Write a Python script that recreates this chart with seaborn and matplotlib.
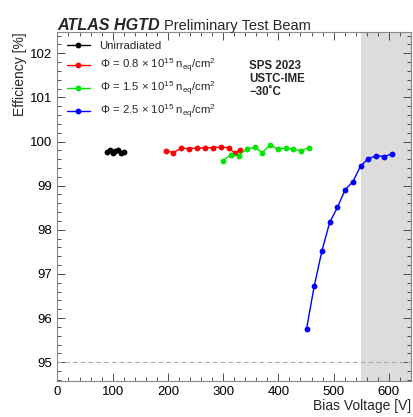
import numpy as np
import pandas as pd
import matplotlib
matplotlib.use("Agg")
import matplotlib.pyplot as plt
import seaborn as sns
from matplotlib.ticker import MultipleLocator

# --------------------------------------------
# Data
# --------------------------------------------
v_unirr = [90, 95, 100, 105, 110, 115, 120]
eff_unirr = [99.76, 99.80, 99.74, 99.79, 99.80, 99.75, 99.77]

v_08 = [196, 210, 224, 238, 252, 267, 281, 296, 310, 322, 330]
eff_08 = [99.79, 99.75, 99.85, 99.84, 99.85, 99.86, 99.86, 99.88, 99.85, 99.74, 99.81]

v_15 = [299, 314, 328, 343, 357, 371, 385, 399, 413, 427, 441, 455]
eff_15 = [99.56, 99.70, 99.68, 99.83, 99.87, 99.75, 99.92, 99.83, 99.85, 99.83, 99.79, 99.86]

v_25 = [451, 465, 479, 493, 507, 521, 535, 549, 563, 577, 592, 606]
eff_25 = [95.75, 96.73, 97.53, 98.17, 98.51, 98.91, 99.09, 99.45, 99.61, 99.68, 99.66, 99.72]

labels = [
    "Unirradiated",
    "\u03a6 = 0.8 \u00d7 10$^{15}$ n$_{\\rm eq}$/cm$^2$",
    "\u03a6 = 1.5 \u00d7 10$^{15}$ n$_{\\rm eq}$/cm$^2$",
    "\u03a6 = 2.5 \u00d7 10$^{15}$ n$_{\\rm eq}$/cm$^2$",
]
colors = ["black", "#ff0000", "#00e600", "#0000ff"]

series = [(v_unirr, eff_unirr), (v_08, eff_08), (v_15, eff_15), (v_25, eff_25)]

# --------------------------------------------
# Style
# --------------------------------------------
sns.set_theme(style="ticks")
plt.rcParams["font.family"] = ["Liberation Sans", "DejaVu Sans"]
plt.rcParams["mathtext.fontset"] = "custom"
plt.rcParams["mathtext.rm"] = "Liberation Sans"
plt.rcParams["mathtext.it"] = "Liberation Sans:italic"
plt.rcParams["mathtext.bf"] = "Liberation Sans:bold"

fig = plt.figure(figsize=(4.13, 4.17), dpi=100)
ax = fig.add_axes([0.139, 0.086, 0.856, 0.837])

# shaded region and reference line
ax.axvspan(550, 640, color="#dcdcdc", lw=0, zorder=0)
ax.axhline(95, color="#aaaaaa", ls=(0, (4, 3)), lw=0.8, zorder=1)

# --------------------------------------------
# Plot series
# --------------------------------------------
for (xs, ys), lab, col in zip(series, labels, colors):
    d = pd.DataFrame({"x": xs, "y": ys})
    sns.lineplot(data=d, x="x", y="y", ax=ax, color=col, marker="o",
                 markersize=4.2, markeredgewidth=0, lw=1.0, label=lab,
                 sort=False, zorder=3)

ax.set_xlim(0, 640)
ax.set_ylim(94.57, 102.48)

ax.xaxis.set_major_locator(MultipleLocator(100))
ax.xaxis.set_minor_locator(MultipleLocator(20))
ax.yaxis.set_major_locator(MultipleLocator(1))
ax.yaxis.set_minor_locator(MultipleLocator(0.2))
ax.tick_params(which="both", direction="in", top=True, right=True,
               labelsize=9.5, colors="#333333", labelcolor="black", width=0.6)
ax.tick_params(which="major", length=6)
ax.tick_params(which="minor", length=3)
for s in ax.spines.values():
    s.set_color("#888888")
    s.set_linewidth(0.8)

ax.set_xlabel("Bias Voltage [V]", fontsize=10, loc="right", labelpad=1)
ax.set_ylabel("Efficiency [%]", fontsize=10, loc="top", labelpad=2)

leg = ax.legend(loc="upper left", frameon=False, fontsize=8.2,
                handlelength=2.1, labelspacing=0.45, borderaxespad=0.4,
                handletextpad=0.8, bbox_to_anchor=(0.0, 1.0))

ax.text(347, 101.84, "SPS 2023\nUSTC-IME\n\u221230\u02daC", fontsize=8.3,
        fontweight="bold", va="top", ha="left", linespacing=1.1)

# --------------------------------------------
# Title
# --------------------------------------------
t1 = fig.text(0.139, 0.938, "ATLAS HGTD", fontsize=11.6, fontweight="bold",
              fontstyle="italic", va="center", ha="left")
fig.canvas.draw()
bb = t1.get_window_extent()
x1 = bb.x1 / fig.bbox.width + 0.010
fig.text(x1, 0.938, "Preliminary Test Beam", fontsize=10.5,
         va="center", ha="left")

fig.savefig("out.png", dpi=100)
print("Completed Successfully!")
